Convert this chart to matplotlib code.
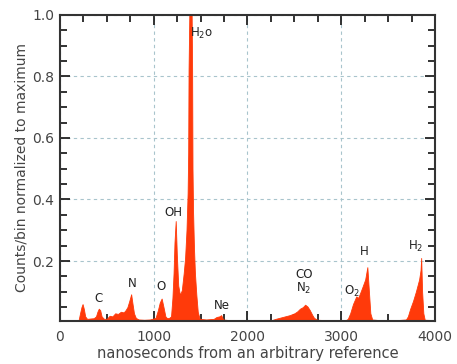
import numpy as np
import matplotlib
matplotlib.use("Agg")
import matplotlib.pyplot as plt
from matplotlib.ticker import MultipleLocator

# time of flight (ns) and counts/bin normalized to maximum
t_ns = [0, 200, 215, 230, 242, 255, 270, 290, 320, 360, 385, 400, 415, 430, 445, 470,
        500, 530, 560, 590, 620, 650, 680, 700, 720, 740, 760, 775, 790, 810, 840,
        900, 960, 1020, 1045, 1065, 1085, 1105, 1125, 1140, 1160, 1185, 1200, 1212,
        1222, 1235, 1247, 1262, 1280, 1300, 1320, 1335, 1350, 1362, 1368, 1372, 1380,
        1405, 1410, 1414, 1420, 1430, 1440, 1455, 1470, 1490, 1560, 1640, 1670, 1700,
        1720, 1740, 1800, 2000, 2250, 2300, 2350, 2400, 2450, 2500, 2530, 2560, 2590,
        2615, 2640, 2665, 2690, 2710, 2745, 2900, 3050, 3070, 3095, 3125, 3160, 3180,
        3200, 3225, 3255, 3278, 3295, 3310, 3330, 3400, 3600, 3690, 3710, 3735, 3765,
        3795, 3830, 3845, 3852, 3862, 3875, 3890, 4000]
counts = [0.008, 0.008, 0.03, 0.05, 0.06, 0.045, 0.02, 0.012, 0.013, 0.014, 0.02, 0.035,
          0.045, 0.04, 0.02, 0.012, 0.012, 0.022, 0.02, 0.03, 0.028, 0.035, 0.033,
          0.04, 0.05, 0.07, 0.092, 0.06, 0.03, 0.015, 0.01, 0.009, 0.01, 0.015, 0.04,
          0.065, 0.078, 0.05, 0.02, 0.015, 0.014, 0.02, 0.08, 0.16, 0.26, 0.33, 0.22,
          0.12, 0.09, 0.105, 0.16, 0.21, 0.3, 0.42, 0.55, 0.82, 1.0, 1.0, 0.82, 0.5,
          0.36, 0.24, 0.16, 0.09, 0.035, 0.012, 0.01, 0.012, 0.018, 0.02, 0.024, 0.01,
          0.008, 0.007, 0.007, 0.012, 0.016, 0.02, 0.024, 0.03, 0.036, 0.045, 0.05,
          0.058, 0.052, 0.04, 0.025, 0.015, 0.009, 0.007, 0.008, 0.012, 0.03, 0.06,
          0.085, 0.08, 0.095, 0.115, 0.14, 0.18, 0.1, 0.03, 0.01, 0.008, 0.008,
          0.01, 0.02, 0.045, 0.07, 0.1, 0.14, 0.17, 0.21, 0.1, 0.03, 0.009, 0.008]

labels = ["C", "N", "O", "OH", "H$_2$o", "Ne", "CO", "N$_2$", "O$_2$", "H", "H$_2$"]
label_x = [416, 768, 1077, 1205, 1515, 1728, 2603, 2603, 3115, 3243, 3797]
label_y = [0.078, 0.126, 0.117, 0.357, 0.94, 0.055, 0.155, 0.11, 0.10, 0.23, 0.246]

red = "#ff3a0a"
txt = "#444444"

fig = plt.figure(figsize=(4.57, 3.64), dpi=100)
ax = fig.add_axes([0.131, 0.119, 0.821, 0.840])

ax.fill_between(t_ns, counts, 0, color=red, lw=0.6, edgecolor=red, zorder=2)

for lab, lx, ly in zip(labels, label_x, label_y):
    ax.text(lx, ly, lab, fontsize=8.5, ha="center", va="center", color="#222222",
            zorder=3)

ax.set_xlim(0, 4000)
ax.set_ylim(0.006, 1.0)
ax.xaxis.set_major_locator(MultipleLocator(1000))
ax.xaxis.set_minor_locator(MultipleLocator(250))
ax.yaxis.set_minor_locator(MultipleLocator(0.05))
ax.set_yticks([0.2, 0.4, 0.6, 0.8, 1.0])
ax.set_yticklabels(["0.2", "0.4", "0.6", "0.8", "1.0"])

ax.grid(True, which="major", color="#a8c4cc", ls=(0, (3, 3)), lw=0.8, zorder=1)
ax.tick_params(which="both", direction="in", top=True, right=True, color="#222222",
               width=1.3, labelsize=10, labelcolor=txt)
ax.tick_params(which="major", length=7)
ax.tick_params(which="minor", length=5)
ax.tick_params(axis="x", which="major", pad=7)
ax.tick_params(axis="y", which="major", pad=4)
for s in ax.spines.values():
    s.set_linewidth(1.5)
    s.set_color("#333333")

ax.set_xlabel("nanoseconds from an arbitrary reference", fontsize=10.5,
              color=txt, labelpad=1)
ax.set_ylabel("Counts/bin normalized to maximum", fontsize=10,
              color=txt, labelpad=3)

fig.savefig("out.png", dpi=100)
